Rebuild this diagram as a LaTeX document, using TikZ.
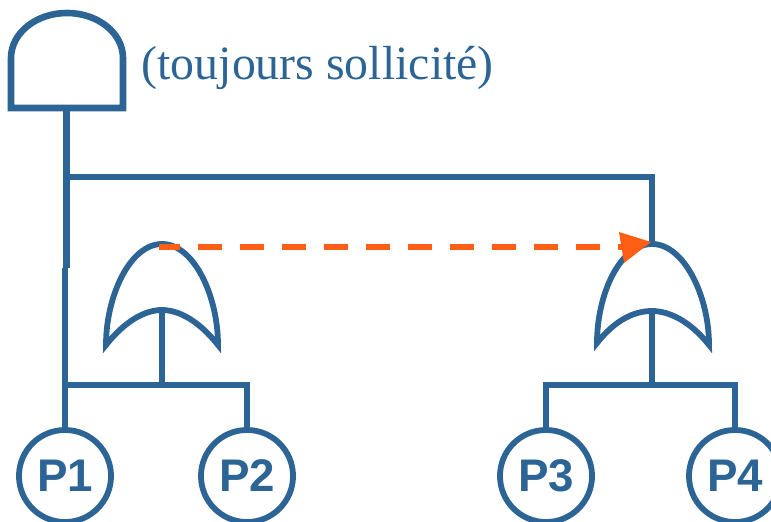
\documentclass[tikz,border=0pt]{standalone}
\usepackage{fontspec}
\setmainfont{Liberation Serif}
\setsansfont{Liberation Sans}
\definecolor{gateblue}{HTML}{2C6496}
\definecolor{sortorange}{HTML}{FF5E14}
\tikzset{
  wire/.style={draw=gateblue,line width=0.058cm},
  thickwire/.style={draw=gateblue,line width=0.066cm},
  perso/.style={circle,draw=gateblue,line width=0.058cm,fill=white,inner sep=0pt,minimum size=0.92cm,
    text=gateblue,font=\sffamily\bfseries\fontsize{13}{13}\selectfont},
  renvoi/.style={draw=sortorange,line width=0.06cm,dash pattern=on 0.24cm off 0.18cm,dash phase=0.03cm}
}
\begin{document}
\begin{tikzpicture}[x=0.01cm,y=0.01cm]
\useasboundingbox (0,0) rectangle (771,521);
\clip (0,0) rectangle (771,521);
% all the anchor points of the gates
\coordinate (and) at (67,413);
\coordinate (jog) at (66.5,253);
\coordinate (jogb) at (65,253);
\coordinate (branch) at (66.5,344);
\coordinate (orL) at (162,277);
\coordinate (orLin) at (162,211);
\coordinate (orR) at (652,277);
\coordinate (orRin) at (652,210);
\coordinate (barL) at (162,136);
\coordinate (barR) at (652,136);
% the four circles
\node[perso] (P1) at (65,45) {P1};
\node[perso] (P2) at (247,45) {P2};
\node[perso] (P3) at (546,45) {P3};
\node[perso] (P4) at (735,45) {P4};
% the and gate and its text
\draw[thickwire,miter limit=10] (11,413) -- (11,463) arc[start angle=180,end angle=0,x radius=56,y radius=45] -- (123,413) -- cycle;
\node[text=gateblue,font=\fontsize{13.6}{13.6}\selectfont,anchor=base west,inner sep=0pt] (note) at (141,441) {(toujours sollicité)};
% the or gates
\draw[wire,line join=miter] (orL) .. controls ++(-32,0) and (106,225) .. (106,176)
  .. controls (125,200) and (145,211) .. (orLin)
  .. controls (179,211) and (199,200) .. (218,176)
  .. controls (218,225) and (194,277) .. (orL) -- cycle;
\draw[wire,line join=miter] (orR) .. controls ++(-32,0) and (597,227) .. (597,178)
  .. controls (616,202) and (635,210) .. (orRin)
  .. controls (669,210) and (690,200) .. (709,176)
  .. controls (709,225) and (684,277) .. (orR) -- cycle;
% lines of the tree
\draw[thickwire] (and) ++(-0.5,0) -- (jog);
\draw[wire] (jogb) -- (P1.north);
\draw[wire] (branch) -| (orR);
\draw[wire] (orLin) -- ++(0,-78);
\draw[wire] (orRin) -- ++(0,-77);
\draw[wire] (P1.north |- barL) -- (barL -| P2.north) -- (P2.north);
\draw[wire] (P3.north) |- (barR) -| (P4.north);
% the dashed arrow
\coordinate (from) at (159,274);
\coordinate (to) at (625,274);
\draw[renvoi] (from) -- (to);
\fill[sortorange] (619,289) -- (651,279) -- (624,258) -- cycle;
\end{tikzpicture}
\end{document}
